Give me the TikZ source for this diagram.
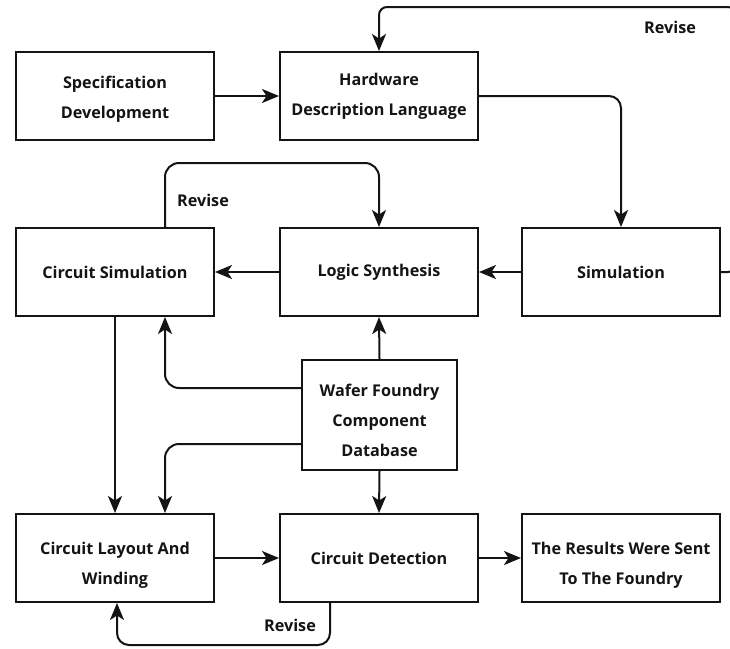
\documentclass[tikz,border=0pt]{standalone}
\usepackage{fontspec}
\setmainfont{Open Sans}
\usetikzlibrary{arrows.meta}
\definecolor{ink}{HTML}{141414}
\newcommand\tstrut[1]{\rule{0pt}{#1pt}}
\begin{document}
\begin{tikzpicture}[x=1pt,y=-1pt,
  box/.style={draw=ink, line width=2pt, minimum width=198pt, minimum height=88pt,
    inner sep=0pt, align=center, text=ink,
    font=\bfseries\fontsize{16.2}{30}\selectfont},
  arr/.style={draw=ink, line width=2pt, -{Stealth[length=17pt,width=14pt,inset=4.5pt]}},
  lbl/.style={text=ink, font=\bfseries\fontsize{16.2}{18}\selectfont}]
\useasboundingbox (0,0) rectangle (730,648);
\fill[white] (0,0) rectangle (730,648);

\node[box] (spec) at (115,96) {\tstrut{18}Specification\\Development};
\node[box] (hdl) at (379,96) {Hardware\\Description Language};
\node[box] (csim) at (115,272) {Circuit Simulation};
\node[box] (logic) at (379,272) {Logic Synthesis};
\node[box] (sim) at (621,272) {Simulation};
\node[box, minimum width=155pt, minimum height=110pt] (wafer) at (379.5,415) {\tstrut{24}Wafer Foundry\\Component\\Database};
\node[box] (layout) at (115,558) {\tstrut{26}Circuit Layout And\\Winding};
\node[box] (detect) at (379,558) {Circuit Detection};
\node[box] (results) at (621,558) {\tstrut{26}The Results Were Sent\\To The Foundry};

\coordinate (r1) at (736,7);
\coordinate (r2) at (270,163);
\coordinate (r3) at (200,645);

\draw[arr] (spec) -- (hdl);
\draw[arr, rounded corners=12pt] (hdl.east) -| (sim.north);
\draw[arr] (sim) -- (logic);
\draw[arr] (logic) -- (csim);
\draw[arr, rounded corners=8pt] (sim.east) -| (r1) -| (hdl.north);
\draw[arr, rounded corners=14pt] ([xshift=50pt]csim.north) |- (r2) -| (logic.north);
\draw[arr] (wafer.north) -- (logic.south);
\draw[arr, rounded corners=14pt] ([yshift=27pt]wafer.west) -| ([xshift=50pt]csim.south);
\draw[arr, rounded corners=14pt] ([yshift=-29pt]wafer.west) -| ([xshift=50pt]layout.north);
\draw[arr] (csim.south) -- (layout.north);
\draw[arr] (wafer.south) -- (detect.north);
\draw[arr] (layout) -- (detect);
\draw[arr] (detect) -- (results);
\draw[arr, rounded corners=12pt] ([xshift=-49pt]detect.south) |- (r3) -| ([xshift=2pt]layout.south);

\node[lbl] (rv1) at (670,27) {Revise};
\node[lbl] (rv2) at (203,200) {Revise};
\node[lbl] (rv3) at (290,625) {Revise};
\end{tikzpicture}
\end{document}
